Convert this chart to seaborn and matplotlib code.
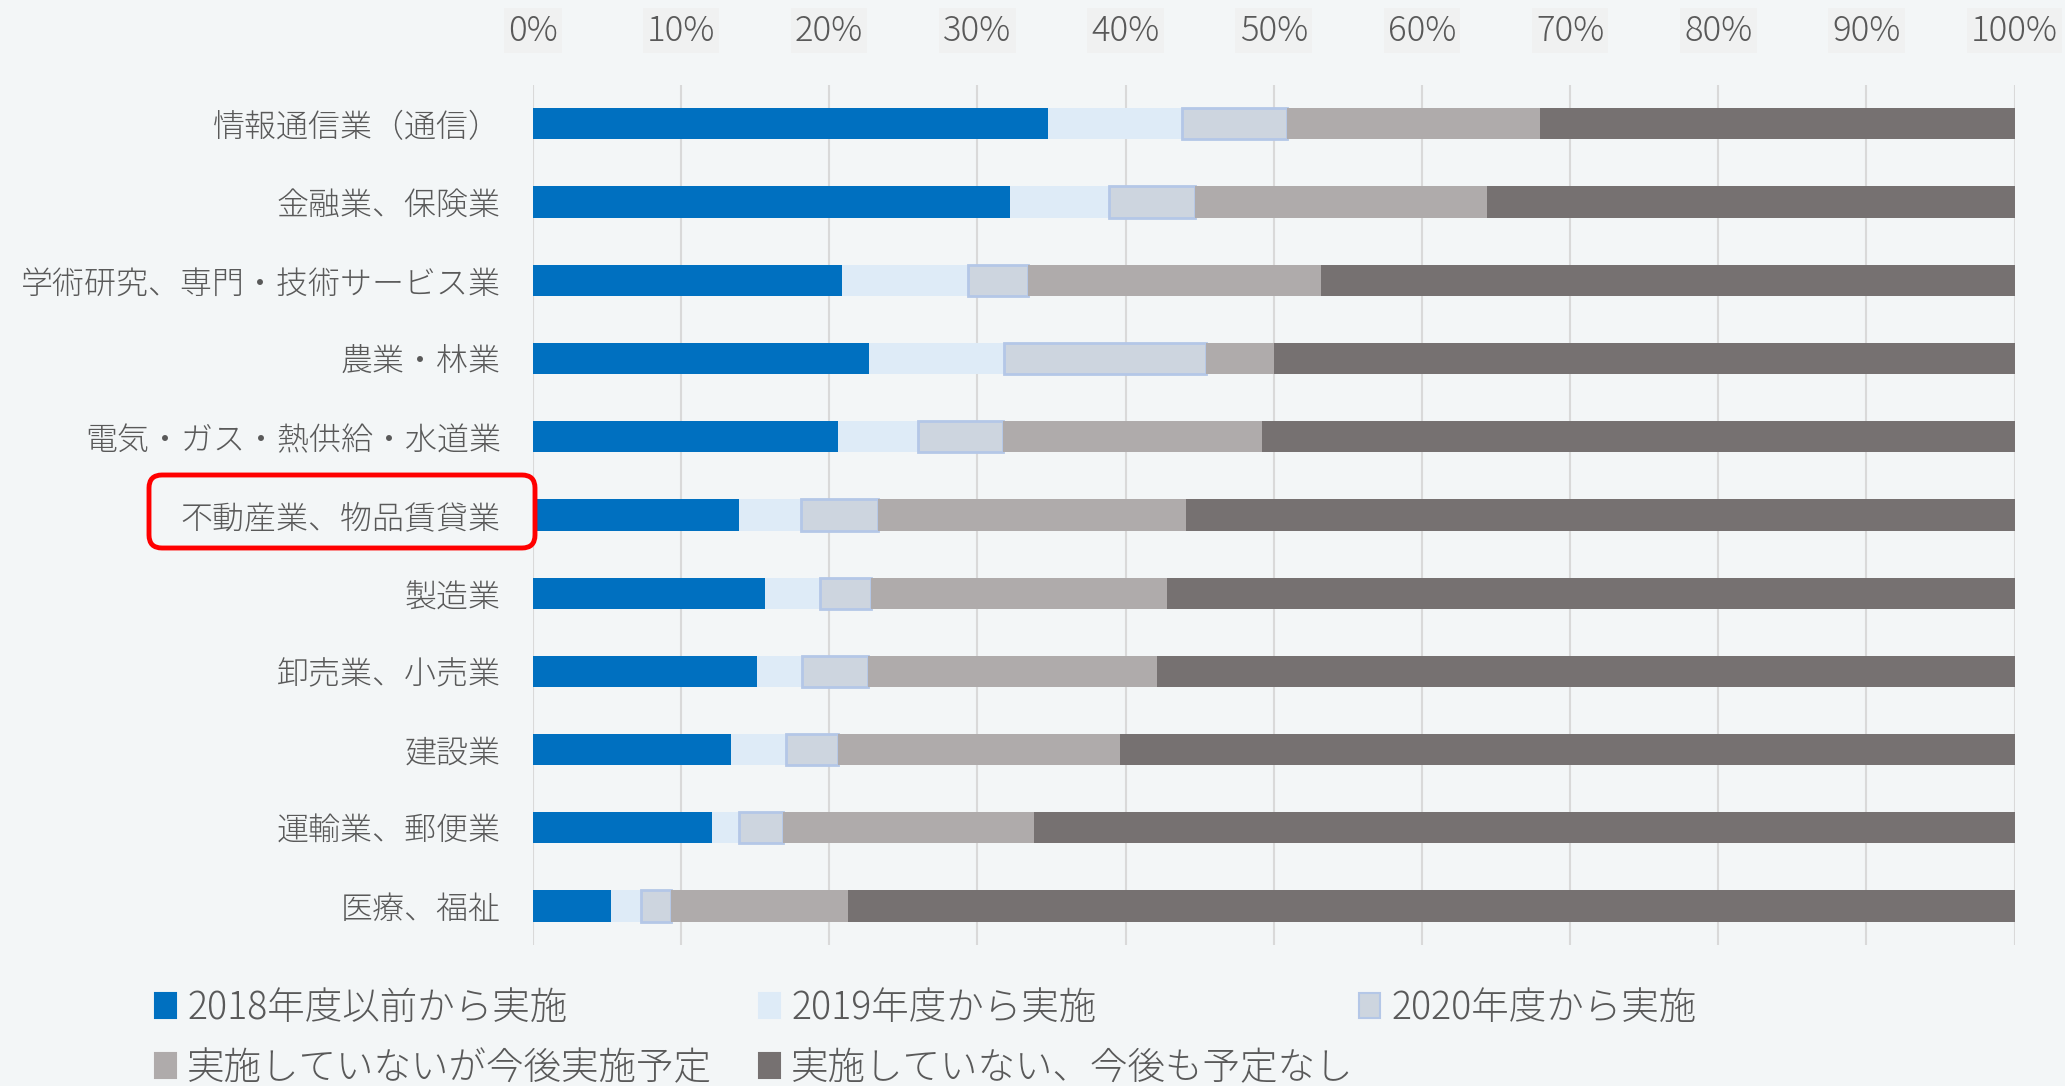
import numpy as np
import pandas as pd
import matplotlib
matplotlib.use("Agg")
import matplotlib.pyplot as plt
import seaborn as sns
from matplotlib.patches import Patch, FancyBboxPatch

# Industries, top to bottom
industries = [
    "情報通信業（通信）",
    "金融業、保険業",
    "学術研究、専門・技術サービス業",
    "農業・林業",
    "電気・ガス・熱供給・水道業",
    "不動産業、物品賃貸業",
    "製造業",
    "卸売業、小売業",
    "建設業",
    "運輸業、郵便業",
    "医療、福祉",
]

series_names = [
    "2018年度以前から実施",
    "2019年度から実施",
    "2020年度から実施",
    "実施していないが今後実施予定",
    "実施していない、今後も予定なし",
]

# Share of companies (%) per industry
before_2018 = [34.8, 32.2, 20.9, 22.7, 20.6, 13.9, 15.7, 15.1, 13.4, 12.1, 5.3]
from_2019 = [9.0, 6.7, 8.5, 9.1, 5.4, 4.2, 3.7, 3.1, 3.7, 1.8, 2.0]
from_2020 = [7.1, 5.8, 4.0, 13.6, 5.7, 5.2, 3.4, 4.4, 3.5, 3.0, 2.0]
planned = [17.1, 19.7, 19.8, 4.6, 17.5, 20.8, 20.0, 19.5, 19.0, 16.9, 12.0]
no_plan = [32.0, 35.6, 46.8, 50.0, 50.8, 55.9, 57.2, 57.9, 60.4, 66.2, 78.7]

tick_values = list(range(0, 101, 10))
tick_labels = [f"{v}%" for v in tick_values]

bg = "#f3f6f7"
text_color = "#595959"
fills = ["#0070c0", "#deebf7", "#cdd5df", "#afabab", "#767171"]
edges = ["none", "none", "#b4c7e7", "none", "none"]
edge_widths = [0, 0, 2.0, 0, 0]

sns.set_theme(style="white")
plt.rcParams["font.family"] = ["Noto Sans CJK JP", "DejaVu Sans"]
plt.rcParams["font.weight"] = "light"

fig = plt.figure(figsize=(20.65, 10.86), dpi=100, facecolor=bg)
ax = fig.add_axes([0.258, 0.1297, 0.7176, 0.7923])
ax.set_facecolor(bg)

values = [before_2018, from_2019, from_2020, planned, no_plan]
left = np.zeros(len(industries))
for name, vals, fc, ec, lw in zip(series_names, values, fills, edges, edge_widths):
    df = pd.DataFrame({"industry": industries, "value": vals})
    sns.barplot(
        data=df, x="value", y="industry", order=industries,
        color=fc, saturation=1, width=0.4, errorbar=None,
        left=left, edgecolor=ec, linewidth=lw, ax=ax, zorder=3,
    )
    left = left + np.asarray(vals)

ax.set_xlim(0, 100)
ax.set_ylim(len(industries) - 0.5, -0.5)
ax.set_xticks(tick_values)
ax.set_xticklabels(tick_labels)
ax.xaxis.tick_top()
ax.set_xlabel("")
ax.set_ylabel("")
ax.tick_params(axis="x", length=0, pad=26, labelsize=25, labelcolor=text_color)
ax.tick_params(axis="y", length=0, pad=23, labelsize=23, labelcolor=text_color)
for lbl in ax.get_xticklabels():
    lbl.set_bbox(dict(facecolor="#f0f1f1", edgecolor="none", pad=3))

ax.xaxis.grid(True, color="#d9d9d9", linewidth=1.5)
ax.yaxis.grid(False)
ax.set_axisbelow(True)
for s in ax.spines.values():
    s.set_visible(False)

# Highlight frame around one industry label
frame = FancyBboxPatch(
    (1.49, 10.86 - 5.48), 3.86, 0.73,
    boxstyle="round,pad=0,rounding_size=0.13",
    transform=fig.dpi_scale_trans, facecolor="none",
    edgecolor="#ff0000", linewidth=3.5, zorder=10,
)
fig.patches.append(frame)

# Legend laid out in three fixed columns, two rows
handles = [Patch(facecolor=fc, edgecolor=(ec if ec != "none" else fc), linewidth=1.5)
           for fc, ec in zip(fills, edges)]
columns = [[0, 3], [1, 4], [2]]
col_x = [155 / 2065, 759 / 2065, 1359 / 2065]
for idxs, x in zip(columns, col_x):
    leg = fig.legend(
        [handles[i] for i in idxs], [series_names[i] for i in idxs],
        loc="upper left", bbox_to_anchor=(x, 1 - 988 / 1086),
        frameon=False, fontsize=27, borderpad=0, borderaxespad=0,
        handlelength=0.56, handleheight=0.64, handletextpad=0.3,
        labelspacing=0.56,
    )
    for t in leg.get_texts():
        t.set_color(text_color)

fig.savefig("out.png", dpi=100, facecolor=bg)
